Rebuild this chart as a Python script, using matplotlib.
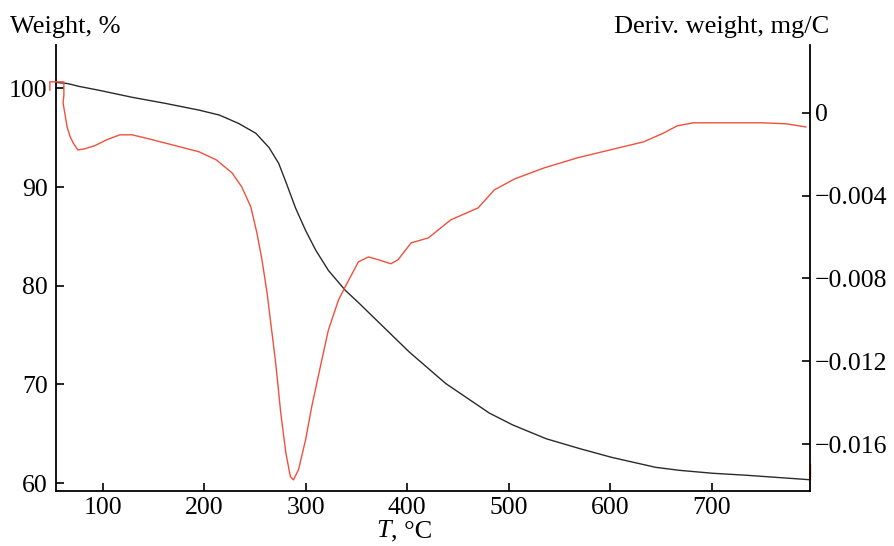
import matplotlib
matplotlib.use("Agg")
from matplotlib import pyplot as plt

plt.rcParams['font.family'] = ['Liberation Serif', 'DejaVu Serif']
plt.rcParams['mathtext.fontset'] = 'stix'
plt.rcParams['font.size'] = 18

# weight curve (TG), T in C, weight in %
tg_temp = [55, 65, 77, 97, 129, 161, 195, 215, 234, 251, 264, 273.5, 281, 290, 300,
           310, 322.5, 339, 352, 372, 402, 438, 481, 504, 537, 570, 602, 645, 668,
           701, 734, 796]
tg_weight = [100.6, 100.5, 100.2, 99.8, 99.1, 98.5, 97.8, 97.3, 96.45, 95.45, 94.0,
             92.4, 90.4, 87.9, 85.6, 83.6, 81.55, 79.55, 78.3, 76.3, 73.3, 70.1,
             67.1, 65.9, 64.5, 63.5, 62.6, 61.6, 61.3, 61.0, 60.8, 60.35]

# derivative curve (DTG), mg/C
dtg_temp = [48, 48, 61.8, 61.8, 61, 65, 68, 71, 75.5, 82, 92, 104, 117, 129, 146, 169,
            195, 212, 227.5, 237, 246, 252, 257, 262, 266.5, 270.5, 275.5, 280.5, 285,
            288, 293, 300, 306, 314.5, 322.5, 332.5, 340, 352, 362, 372, 384, 391,
            404, 421, 443, 470, 486, 506, 535, 568, 600, 633, 653, 666, 682, 751,
            774, 793]
dtg_value = [0.0011, 0.0015, 0.0015, 0.00087, 0.00048, -0.00068, -0.00116, -0.00145,
             -0.00179, -0.00174, -0.00159, -0.0013, -0.00106, -0.00106, -0.00126,
             -0.00155, -0.00188, -0.00227, -0.0029, -0.00357, -0.00454, -0.0058,
             -0.0071, -0.00869, -0.01048, -0.01208, -0.01449, -0.01642, -0.01758,
             -0.01773, -0.01724, -0.01579, -0.0142, -0.01227, -0.01048, -0.00903,
             -0.00831, -0.0072, -0.00696, -0.0071, -0.00729, -0.0071, -0.00628,
             -0.00604, -0.00517, -0.00459, -0.00372, -0.00319, -0.00266, -0.00217,
             -0.00179, -0.0014, -0.00097, -0.00063, -0.00048, -0.00048, -0.00053,
             -0.00068]
# short red stub at the right edge
dtg_tail_temp = [797, 797]
dtg_tail_value = [-0.01697, -0.0177]

x_ticks = [100, 200, 300, 400, 500, 600, 700]
left_ticks = [60, 70, 80, 90, 100]
right_ticks = [0, -0.004, -0.008, -0.012, -0.016]
right_labels = ['0', '\u22120.004', '\u22120.008', '\u22120.012', '\u22120.016']

fig = plt.figure(figsize=(8.94, 5.46), dpi=100)
ax = fig.add_axes([0.0626, 0.1007, 0.8434, 0.8169])
ax2 = ax.twinx()

ax.plot(tg_temp, tg_weight, color='#2a2a2a', lw=1.0)
ax2.plot(dtg_temp, dtg_value, color='#f0503c', lw=1.0, clip_on=False)
ax2.plot(dtg_tail_temp, dtg_tail_value, color='#f0503c', lw=1.0, clip_on=False)

ax.set_xlim(54, 797)
ax.set_ylim(59.2, 104.4)
ax2.set_ylim(-0.01827, 0.00328)

ax.set_xticks(x_ticks)
ax.set_yticks(left_ticks)
ax2.set_yticks(right_ticks)
ax2.set_yticklabels(right_labels)

for a in (ax, ax2):
    a.spines['top'].set_visible(False)
    for s in a.spines.values():
        s.set_linewidth(1.3)
    a.tick_params(direction='in', length=6, width=1.2, labelsize=18.5)
ax.tick_params(axis='x', pad=4)
ax.tick_params(axis='y', pad=6)
ax.spines['right'].set_visible(False)
ax2.spines['left'].set_visible(False)
ax2.spines['bottom'].set_visible(False)

fig.text(0.011, 0.95, 'Weight, %', fontsize=19, va='center', ha='left')
fig.text(0.928, 0.95, 'Deriv. weight, mg/C', fontsize=19, va='center', ha='right')
# axis title: italic T, then the unit, set on one baseline
fig.text(0.437, 0.016, 'T', fontsize=19, style='italic', va='baseline', ha='right')
fig.text(0.437, 0.016, ', \u00b0C', fontsize=19, va='baseline', ha='left')

fig.savefig('out.png', dpi=100)
